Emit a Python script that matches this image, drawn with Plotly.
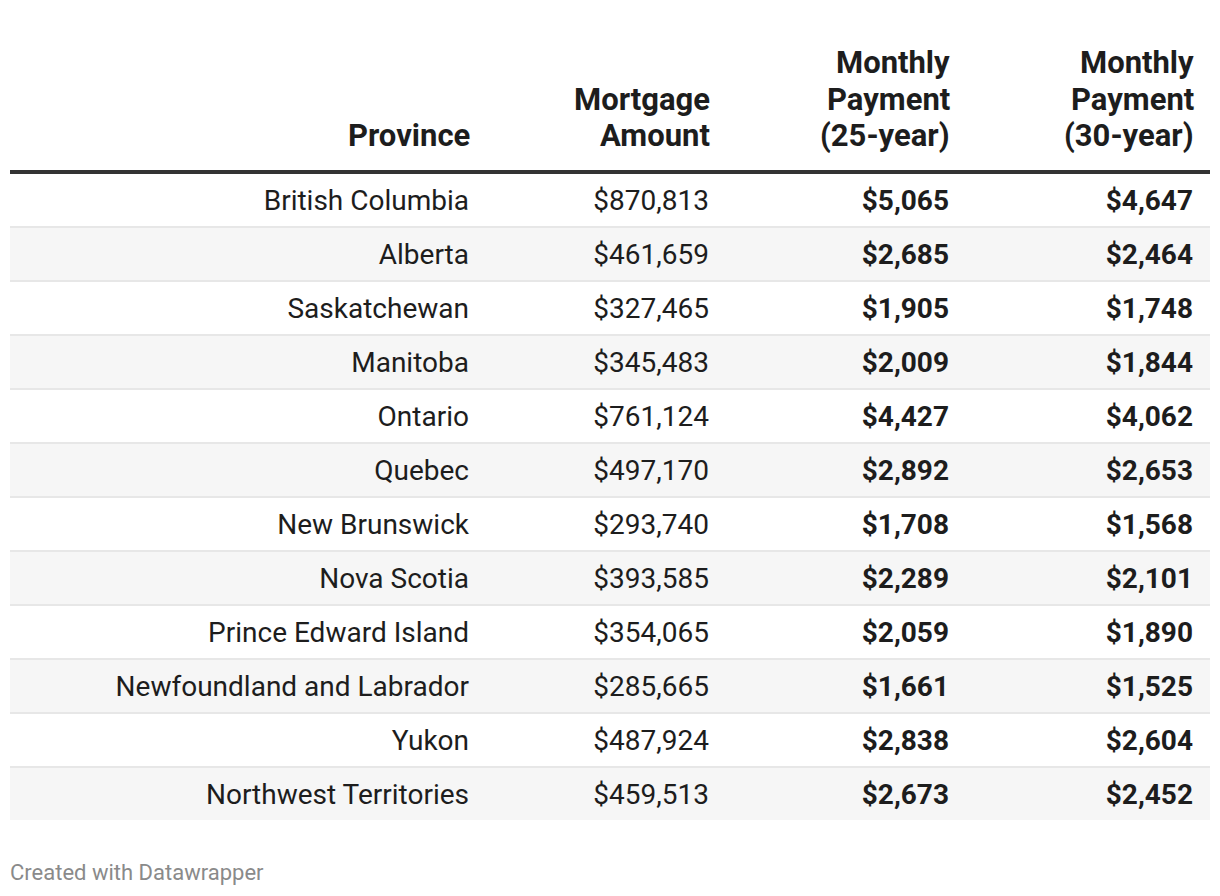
import plotly.graph_objects as go

provinces = ["British Columbia", "Alberta", "Saskatchewan", "Manitoba", "Ontario", "Quebec",
             "New Brunswick", "Nova Scotia", "Prince Edward Island", "Newfoundland and Labrador",
             "Yukon", "Northwest Territories"]
mortgage_amount = [870813, 461659, 327465, 345483, 761124, 497170, 293740, 393585, 354065, 285665, 487924, 459513]
payment_25 = [5065, 2685, 1905, 2009, 4427, 2892, 1708, 2289, 2059, 1661, 2838, 2673]
payment_30 = [4647, 2464, 1748, 1844, 4062, 2653, 1568, 2101, 1890, 1525, 2604, 2452]
headers = [["Province"], ["Mortgage", "Amount"], ["Monthly", "Payment", "(25-year)"], ["Monthly", "Payment", "(30-year)"]]

# page has an 8px body margin; axis units are page pixels
OFF = 8
W, H = 1220 - 2 * OFF, 896 - 2 * OFF
LEFT, RIGHT = 10, 1210
col_right = [469, 709, 949, 1193]
row_top0 = 174
row_pitch = 54
header_line_y = 172
header_baselines = [146, 110, 73]  # bottom line first
header_size = 31

FONT = "Roboto, 'Open Sans', sans-serif"
TXT = "#1d1d1d"
BODY = 28

def money(v):
    return "${:,}".format(v)

columns = [
    (provinces, False),
    ([money(v) for v in mortgage_amount], False),
    ([money(v) for v in payment_25], True),
    ([money(v) for v in payment_30], True),
]

n = len(provinces)
fig = go.Figure()

shapes = []
for i in range(n):
    top = row_top0 + i * row_pitch
    if i % 2 == 1:
        shapes.append(dict(type="rect", xref="x", yref="y", x0=LEFT, x1=RIGHT, y0=top, y1=top + row_pitch - 2,
                           fillcolor="#f6f6f6", line=dict(width=0), layer="below"))
    if i < n - 1:
        shapes.append(dict(type="rect", xref="x", yref="y", x0=LEFT, x1=RIGHT, y0=top + row_pitch - 2,
                           y1=top + row_pitch, fillcolor="#e7e7e7", line=dict(width=0), layer="below"))
shapes.append(dict(type="rect", xref="x", yref="y", x0=LEFT, x1=RIGHT, y0=header_line_y - 2, y1=header_line_y + 2,
                   fillcolor="#333333", line=dict(width=0), layer="below"))

for c, (vals, bold) in enumerate(columns):
    ys = [row_top0 + i * row_pitch + (row_pitch - 2) / 2 + 3 for i in range(n)]
    texts = ["<b>%s</b>" % v if bold else v for v in vals]
    fig.add_trace(go.Scatter(
        x=[col_right[c]] * n, y=ys, mode="text", text=texts,
        textposition="middle left",
        textfont=dict(family=FONT, size=BODY, color=TXT),
        hoverinfo="skip", showlegend=False,
    ))

annotations = []
for c, lines in enumerate(headers):
    for k, line in enumerate(reversed(lines)):
        annotations.append(dict(
            x=col_right[c], y=header_baselines[k] - 0.35 * header_size, xref="x", yref="y",
            text="<b>%s</b>" % line,
            showarrow=False, xanchor="right", yanchor="middle", align="right",
            font=dict(family=FONT, size=header_size, color=TXT), xshift=3,
        ))
annotations.append(dict(
    x=LEFT, y=872, xref="x", yref="y", text="Created with Datawrapper",
    showarrow=False, xanchor="left", yanchor="middle", align="left",
    font=dict(family=FONT, size=22, color="#8a8a8a"), xshift=-2,
))

fig.update_layout(
    width=W, height=H, margin=dict(l=0, r=0, t=0, b=0),
    paper_bgcolor="white", plot_bgcolor="white",
    xaxis=dict(range=[OFF, OFF + W], visible=False, fixedrange=True),
    yaxis=dict(range=[OFF + H, OFF], visible=False, fixedrange=True),
    shapes=shapes, annotations=annotations,
)
fig.write_html("out.html")
